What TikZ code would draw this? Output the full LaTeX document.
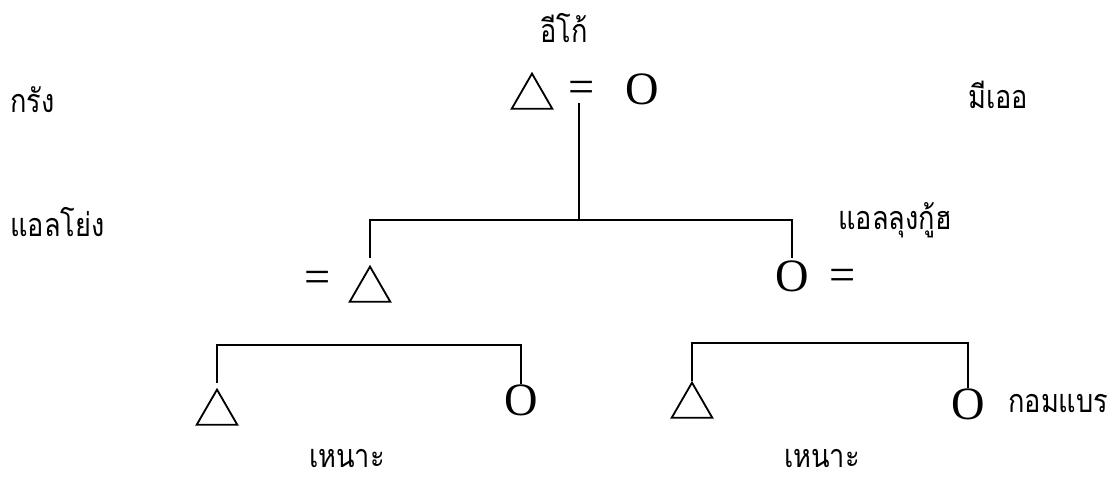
\documentclass[tikz,border=0pt]{standalone}
\usepackage{fontspec}
\newfontfamily\thaifont[Script=Thai, FakeStretch=0.84]{Loma}
\newfontfamily\symfont{Liberation Serif}
\usetikzlibrary{shapes.geometric}

\begin{document}
\begin{tikzpicture}[x=0.025cm, y=-0.025cm,
  every node/.style={inner sep=0pt},
  kin/.style={line width=1.3pt},
  tri/.style={draw, line width=1.3pt, regular polygon, regular polygon sides=3, minimum size=1.17cm},
  sym/.style={font=\symfont\fontsize{33}{33}\selectfont},
  thname/.style={font=\thaifont\fontsize{23}{27}\selectfont}]
\useasboundingbox (0,0) rectangle (1117,483);
% ego and wife
\node[thname] (ego) at (564,28) {อีโก้};
\node[thname, anchor=west] (krang) at (10,100) {กรัง};
\node[thname] (mioe) at (998,95) {มีเออ};
\node[tri] (t1) at (532,97) {};
\node[sym] (eq1) at (582,92) {=};
\node[sym] (o1) at (642,89) {O};
% children
\node[thname, anchor=west] (aeyong) at (10,222) {แอลโย่ง};
\node[thname, anchor=west] (aelung) at (838,220) {แอลลุงกู้ฮ};
\node[sym] (eq2) at (318,282) {=};
\node[tri] (t2) at (370,290) {};
\node[sym] (o2) at (792,276) {O};
\node[sym] (eq3) at (843,280) {=};
% grandchildren
\node[tri] (t3) at (217,413) {};
\node[sym] (o3) at (521,400) {O};
\node[tri] (t4) at (692,406) {};
\node[sym] (o4) at (968,404) {O};
\node[thname] (nao1) at (347,459) {เหนาะ};
\node[thname] (nao2) at (822,459) {เหนาะ};
\node[thname, anchor=west] (kom) at (1008,403) {กอมแบร};
% lines
\coordinate (j1) at (579,220);
\coordinate (j2) at (367,345);
\coordinate (j3) at (691,343);
\draw[kin] (eq1.south -| j1) -- (j1);
\draw[kin] ([yshift=5pt]t2.north) |- (j1) -| ([yshift=1.5pt]o2.north);
\draw[kin] ([yshift=3.5pt]t3.north) |- (j2) -| (o3.north);
\draw[kin] (t4.north) |- (j3) -| (o4.north);
\end{tikzpicture}
\end{document}
